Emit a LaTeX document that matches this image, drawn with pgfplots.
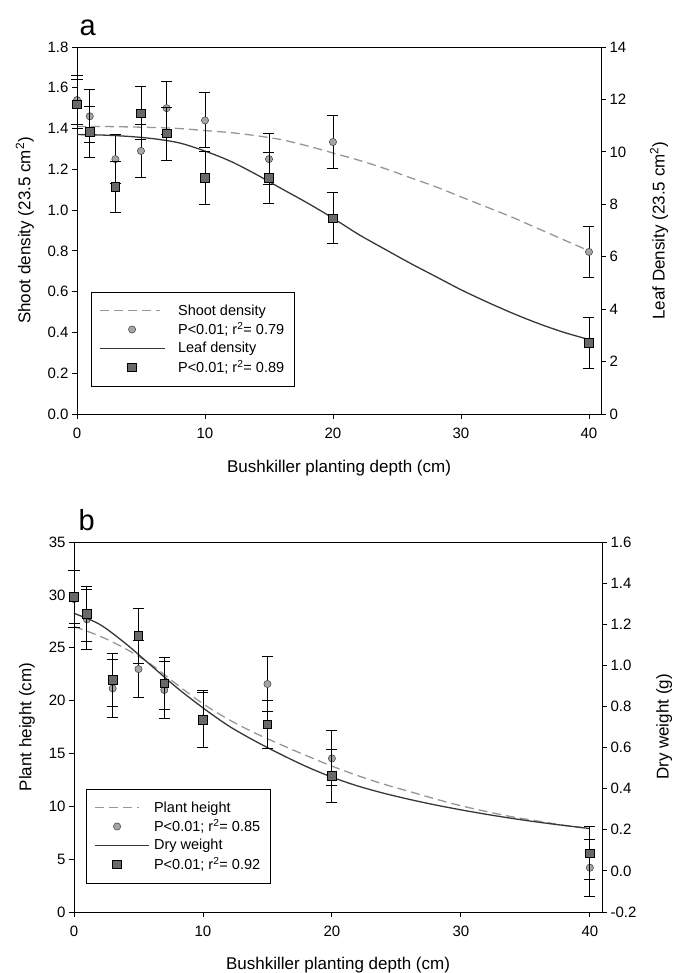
\documentclass[border=0pt]{standalone}
\usepackage{fontspec}
\setmainfont{Liberation Sans}
\usepackage{pgfplots}
\pgfplotsset{compat=1.18}

\definecolor{dashgray}{RGB}{150,150,150}
\definecolor{solidgray}{RGB}{55,55,55}
\definecolor{circfill}{RGB}{165,165,165}
\definecolor{sqfill}{RGB}{105,105,105}

\pgfplotsset{
  base/.style={
    scale only axis, xmin=0, xmax=40.94,
    tick align=outside, major tick length=5bp,
    /pgf/number format/assume math mode=true,
    tick label style={font=\fontsize{15bp}{18bp}\selectfont},
    label style={font=\fontsize{17bp}{20bp}\selectfont},
    clip=false,
    axis line style={line width=0.9pt},
    tick style={line width=0.9pt, black},
    xticklabel shift=6bp,
  },
  onedec/.style={yticklabel style={/pgf/number format/.cd, fixed, fixed zerofill, precision=1}},
  ebar/.style={
    error bars/y dir=both, error bars/y explicit,
    error bars/error bar style={black, line width=0.9pt},
    error bars/error mark options={rotate=90, black, mark size=5.5bp, line width=0.9pt}},
  circ/.style={only marks, mark=*, mark size=3.6bp,
    mark options={fill=circfill, draw=black!70, line width=0.6pt}, ebar},
  sq/.style={only marks, mark=square*, mark size=4.3bp,
    mark options={fill=sqfill, draw=black, line width=0.6pt}, ebar},
  dashcurve/.style={dashgray, line width=1.3pt, dash pattern=on 9bp off 5bp, smooth},
  solidcurve/.style={solidgray, line width=1.3pt, smooth},
  leg/.style={legend style={at={(#1,0.332)}, anchor=north west, draw=black, line width=0.9pt,
    font=\fontsize{14.5bp}{17bp}\selectfont, inner xsep=8bp, inner ysep=10bp,
    row sep=2bp, cells={anchor=west}}},
}

\begin{document}
\begin{tikzpicture}
\useasboundingbox (0,0) rectangle (673bp,973bp);

% ---------------- panel a ----------------
\begin{axis}[base, onedec, leg=0.0267, at={(77bp,559bp)}, anchor=south west,
  width=524bp, height=367bp,
  ymin=0, ymax=1.8, ytick={0,0.2,0.4,0.6,0.8,1.0,1.2,1.4,1.6,1.8},
  xtick={0,10,20,30,40}, xtick pos=bottom, ytick pos=left,
  xlabel={Bushkiller planting depth (cm)}, xlabel shift=14bp,
  ylabel={Shoot density (23.5 cm\textsuperscript{2})}, ylabel shift=7bp,
  title={a}, title style={at={(axis description cs:0,1)}, anchor=south west,
    font=\fontsize{29bp}{30bp}\selectfont, xshift=-1bp, yshift=2bp},
]
\addlegendimage{legend image code/.code={\path[draw=none] (0bp,0bp) -- (76bp,0bp);
  \draw[dashgray, line width=1.3pt, dash pattern=on 9bp off 5bp] (0bp,0bp) -- (60bp,0bp);}}
\addlegendentry{Shoot density}
\addlegendimage{legend image code/.code={\path[draw=none] (0bp,0bp) -- (76bp,0bp);
  \draw[fill=circfill, draw=black!70, line width=0.6pt] (32bp,0bp) circle (3.6bp);}}
\addlegendentry{P<0.01; r\textsuperscript{2}= 0.79}
\addlegendimage{legend image code/.code={\path[draw=none] (0bp,0bp) -- (76bp,0bp);
  \draw[solidgray, line width=1.3pt] (0bp,0bp) -- (65bp,0bp);}}
\addlegendentry{Leaf density}
\addlegendimage{legend image code/.code={\path[draw=none] (0bp,0bp) -- (76bp,0bp);
  \draw[fill=sqfill, draw=black, line width=0.6pt] (27.7bp,-4.3bp) rectangle (36.3bp,4.3bp);}}
\addlegendentry{P<0.01; r\textsuperscript{2}= 0.89}

\addplot[forget plot, dashcurve] coordinates {
(0,1.41)(2,1.41)(4,1.408)(6,1.405)(8,1.40)(10,1.39)(12,1.38)(14,1.365)(16,1.345)(18,1.315)
(20,1.28)(22,1.245)(24,1.205)(26,1.16)(28,1.115)(30,1.065)(32,1.015)(34,0.965)(36,0.91)(38,0.855)(40,0.80)};
\addplot[forget plot, circ] coordinates {
(0,1.54) +- (0,0.12)
(1,1.46) +- (0,0.13)
(3,1.25) +- (0,0.12)
(5,1.29) +- (0,0.13)
(7,1.50) +- (0,0.13)
(10,1.44) +- (0,0.135)
(15,1.25) +- (0,0.125)
(20,1.334) +- (0,0.13)
(40,0.795) +- (0,0.125)};
\end{axis}

\begin{axis}[base, at={(77bp,559bp)}, anchor=south west,
  width=524bp, height=367bp,
  axis x line=none, axis y line*=right,
  ymin=0, ymax=14, ytick={0,2,4,6,8,10,12,14},
  ylabel={Leaf Density (23.5 cm\textsuperscript{2})}, ylabel shift=17bp,
]
\addplot[solidcurve] coordinates {
(0,10.66)(2,10.64)(4,10.59)(6,10.50)(8,10.34)(10,10.03)(12,9.64)(14,9.14)(16,8.59)(18,8.05)
(20,7.47)(22,6.85)(24,6.30)(26,5.76)(28,5.25)(30,4.74)(32,4.28)(34,3.85)(36,3.46)(38,3.12)(40,2.84)};
\addplot[sq] coordinates {
(0,11.82) +- (0,0.93)
(1,10.77) +- (0,0.97)
(3,8.67) +- (0,0.97)
(5,11.47) +- (0,1.01)
(7,10.70) +- (0,1.01)
(10,9.02) +- (0,1.01)
(15,9.02) +- (0,0.97)
(20,7.47) +- (0,0.97)
(40,2.72) +- (0,0.97)};
\end{axis}

% ---------------- panel b ----------------
\begin{axis}[base, leg=0.0227, at={(74bp,61bp)}, anchor=south west,
  width=528bp, height=370bp,
  ymin=0, ymax=35, ytick={0,5,10,15,20,25,30,35},
  xtick={0,10,20,30,40}, xtick pos=bottom, ytick pos=left,
  xlabel={Bushkiller planting depth (cm)}, xlabel shift=13bp,
  ylabel={Plant height (cm)}, ylabel shift=7bp,
  title={b}, title style={at={(axis description cs:0,1)}, anchor=south west,
    font=\fontsize{29bp}{30bp}\selectfont, xshift=1bp, yshift=2bp},
]
\addlegendimage{legend image code/.code={\path[draw=none] (0bp,0bp) -- (57bp,0bp);
  \draw[dashgray, line width=1.3pt, dash pattern=on 9bp off 5bp] (0bp,0bp) -- (44bp,0bp);}}
\addlegendentry{Plant height}
\addlegendimage{legend image code/.code={\path[draw=none] (0bp,0bp) -- (57bp,0bp);
  \draw[fill=circfill, draw=black!70, line width=0.6pt] (22bp,0bp) circle (3.6bp);}}
\addlegendentry{P<0.01; r\textsuperscript{2}= 0.85}
\addlegendimage{legend image code/.code={\path[draw=none] (0bp,0bp) -- (57bp,0bp);
  \draw[solidgray, line width=1.3pt] (0bp,0bp) -- (54bp,0bp);}}
\addlegendentry{Dry weight}
\addlegendimage{legend image code/.code={\path[draw=none] (0bp,0bp) -- (57bp,0bp);
  \draw[fill=sqfill, draw=black, line width=0.6pt] (17.7bp,-4.3bp) rectangle (26.3bp,4.3bp);}}
\addlegendentry{P<0.01; r\textsuperscript{2}= 0.92}

\addplot[forget plot, dashcurve] coordinates {
(0,27.0)(2,26.1)(4,24.9)(6,23.4)(8,21.5)(10,19.7)(12,18.2)(14,16.95)(16,15.85)(18,14.8)
(20,13.8)(22,12.9)(24,12.1)(26,11.4)(28,10.7)(30,10.05)(32,9.5)(34,9.0)(36,8.6)(38,8.2)(40,7.9)};
\addplot[forget plot, circ] coordinates {
(0,29.6) +- (0,2.7)
(1,27.68) +- (0,2.8)
(3,21.15) +- (0,2.75)
(5,22.98) +- (0,2.7)
(7,21.0) +- (0,2.7)
(10,18.3) +- (0,2.7)
(15,21.57) +- (0,2.6)
(20,14.53) +- (0,2.6)
(40,4.19) +- (0,2.7)};
\end{axis}

\begin{axis}[base, onedec, at={(74bp,61bp)}, anchor=south west,
  width=528bp, height=370bp,
  axis x line=none, axis y line*=right,
  ymin=-0.2, ymax=1.6, ytick={-0.2,0,0.2,0.4,0.6,0.8,1.0,1.2,1.4,1.6},
  ylabel={Dry weight (g)}, ylabel shift=13bp,
]
\addplot[solidcurve] coordinates {
(0,1.253)(2,1.199)(4,1.106)(6,0.998)(8,0.890)(10,0.793)(12,0.705)(14,0.633)(16,0.568)(18,0.508)
(20,0.456)(22,0.413)(24,0.378)(26,0.348)(28,0.321)(30,0.297)(32,0.275)(34,0.255)(36,0.237)(38,0.221)(40,0.206)};
\addplot[sq] coordinates {
(0,1.334) +- (0,0.129)
(1,1.250) +- (0,0.134)
(3,0.929) +- (0,0.131)
(5,1.144) +- (0,0.134)
(7,0.912) +- (0,0.126)
(10,0.734) +- (0,0.134)
(15,0.713) +- (0,0.118)
(20,0.463) +- (0,0.129)
(40,0.085) +- (0,0.129)};
\end{axis}
\end{tikzpicture}
\end{document}
